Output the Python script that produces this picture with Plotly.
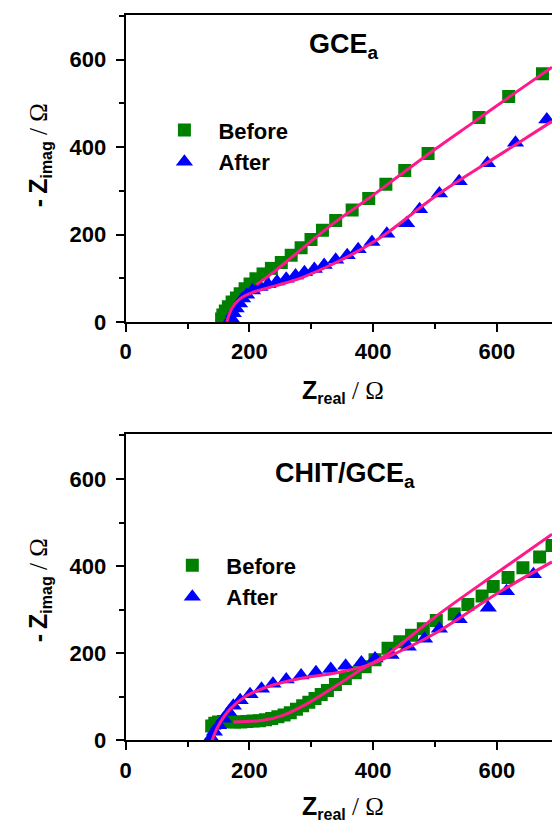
import plotly.graph_objects as go

# ---- Nyquist data: GCE_a (top panel) ----
gce_before_zre = [155, 157, 161, 166, 172, 179, 185, 193, 201, 210.5, 222, 235.5, 251.5, 267.5,
                  283.5, 299.5, 318, 339.4, 366, 392.8, 420.5, 451, 488.7, 571, 619, 673.6]
gce_before_zim = [6.8, 15.8, 24.8, 34.5, 45.8, 54.8, 64.7, 76, 87, 98.5, 109.8, 122.5, 136, 152.6,
                  169.8, 188.7, 209.7, 232, 256, 282.6, 315, 346.5, 385.6, 468, 516, 568]
gce_after_zre = [170.6, 174, 178.6, 184, 189, 195.5, 205, 217, 230, 244.6, 259.5, 274.5, 288.9, 304.9,
                 320.8, 339.4, 358, 375.7, 398, 422, 454, 475, 507, 539, 584.6, 630, 680.6]
gce_after_zim = [8.3, 19.6, 30.9, 42, 53.4, 62.4, 72, 79.6, 86.4, 92.4, 98.5, 106, 113.4, 121,
                 130, 142, 152.6, 166, 182.6, 202, 226, 257.7, 293.8, 322, 363, 410, 463]
gce_before_fit_zre = [211, 240, 270, 300, 340, 390, 450, 500, 560, 620, 689]
gce_before_fit_zim = [85, 115, 150, 185, 230, 280, 343, 395, 455, 515, 583]
gce_after_fit_zre = [163.6, 171.6, 185, 206, 243.5, 286, 329, 371, 419, 499, 606, 689]
gce_after_fit_zim = [0, 31, 53.4, 68, 83, 102, 128.5, 158.5, 200, 286, 384, 459]

# ---- Nyquist data: CHIT/GCE_a (bottom panel) ----
chit_before_zre = [139, 144, 150, 158, 167, 176, 186, 196, 206, 216, 226, 236, 246, 256, 266, 276,
                   286, 296, 306, 316, 326, 339, 355, 371, 387, 403, 424, 443, 462, 481, 502, 531,
                   553, 576, 594, 618, 642, 669, 689]
chit_before_zim = [33, 39, 42, 43, 42.5, 42, 42, 43, 44, 45, 47, 50, 54, 58, 63, 71,
                   79, 87, 96, 105, 114, 128, 142, 155, 169, 185, 211, 226, 241, 256, 275, 290,
                   312, 331, 353, 374, 396, 421, 447]
chit_after_zre = [138, 143.4, 150.3, 158.3, 166.5, 174, 185, 201, 219.5, 238, 259.5, 283.5, 307.5,
                  331.5, 355.5, 381, 403, 429, 456.7, 483, 507, 539, 586, 615.5, 659]
chit_after_zim = [6, 19.6, 34.4, 49.5, 64.6, 79.5, 92, 105.7, 118.5, 130, 139.5, 148.5, 156,
                  163.5, 171, 178.5, 188, 195.7, 214.5, 233, 255.8, 278, 304, 342, 381]
chit_before_fit_zre = [174, 222, 254, 297, 339.4, 382, 424.8, 499, 595, 689]
chit_before_fit_zim = [42, 45.7, 57, 87, 124.5, 163.5, 199.5, 282, 379.5, 473]
chit_after_fit_zre = [139.6, 150, 169, 195.5, 233, 286, 339.4, 392.8, 424.8, 499, 606, 689]
chit_after_fit_zim = [0, 34, 72, 102, 124.5, 143, 154.5, 173, 192, 244.5, 342, 409.5]

panel_titles = ["<b>GCE<sub>a</sub></b>", "<b>CHIT/GCE<sub>a</sub></b>"]
series_names = ["Before", "After"]
x_ticks = [0, 200, 400, 600]
y_ticks = [0, 200, 400, 600]

GREEN = "#008000"
BLUE = "#0000ff"
FIT = "#ff1a8c"
SANS = "Liberation Sans, Arial, sans-serif"
SERIF = "Liberation Serif, Times New Roman, serif"

fig = go.Figure()

panels = [
    ("x", "y", "legend", gce_before_zre, gce_before_zim, gce_after_zre, gce_after_zim,
     gce_before_fit_zre, gce_before_fit_zim, gce_after_fit_zre, gce_after_fit_zim),
    ("x2", "y2", "legend2", chit_before_zre, chit_before_zim, chit_after_zre, chit_after_zim,
     chit_before_fit_zre, chit_before_fit_zim, chit_after_fit_zre, chit_after_fit_zim),
]

for xa, ya, lg, bx, by, ax_, ay, bfx, bfy, afx, afy in panels:
    fig.add_trace(go.Scatter(x=bx, y=by, mode="markers", name=series_names[0], legend=lg,
                             xaxis=xa, yaxis=ya,
                             marker=dict(symbol="square", size=13, color=GREEN, line=dict(width=0))))
    fig.add_trace(go.Scatter(x=ax_, y=ay, mode="markers", name=series_names[1], legend=lg,
                             xaxis=xa, yaxis=ya,
                             marker=dict(symbol="triangle-up", size=15, color=BLUE, line=dict(width=0))))
    for fx, fy in ((bfx, bfy), (afx, afy)):
        fig.add_trace(go.Scatter(x=fx, y=fy, mode="lines", showlegend=False, xaxis=xa, yaxis=ya,
                                 line=dict(color=FIT, width=3, shape="spline", smoothing=1.0)))

W, H = 552, 832
top_dom = [(832 - 327) / H, (832 - 15) / H]
bot_dom = [(832 - 752) / H, (832 - 441) / H]
x_dom = [121 / W, 1.0]

axis_common = dict(
    showline=True, linecolor="black", linewidth=2,
    ticks="outside", ticklen=8, tickwidth=2, tickcolor="black",
    minor=dict(ticks="outside", ticklen=5, tickwidth=2, tickcolor="black", dtick=100),
    showgrid=False, zeroline=False,
    tickfont=dict(family=SANS, size=22, color="black", weight="bold"),
)

xaxis_cfg = dict(axis_common, range=[0, 689], tickvals=x_ticks, mirror=True, domain=x_dom,
                 ticklabelstandoff=1)
yaxis_cfg = dict(axis_common, range=[0, 703], tickvals=y_ticks, mirror=False,
                 ticklabelstandoff=5)

legend_font = dict(family=SANS, size=22, color="black", weight="bold")
fig.update_layout(
    width=W, height=H,
    margin=dict(l=0, r=0, t=0, b=0),
    paper_bgcolor="white", plot_bgcolor="white",
    xaxis=dict(xaxis_cfg, anchor="y"),
    yaxis=dict(yaxis_cfg, domain=top_dom, anchor="x"),
    xaxis2=dict(xaxis_cfg, anchor="y2"),
    yaxis2=dict(yaxis_cfg, domain=bot_dom, anchor="x2"),
    showlegend=True,
    legend=dict(x=146 / W, y=(832 - 111) / H, xanchor="left", yanchor="top",
                bgcolor="rgba(0,0,0,0)", itemwidth=58, tracegroupgap=0, font=legend_font),
    legend2=dict(x=154 / W, y=(832 - 553) / H, xanchor="left", yanchor="top",
                 bgcolor="rgba(0,0,0,0)", itemwidth=58, tracegroupgap=0, font=legend_font),
)

sub_style = "font-size:16px"
x_title = (f"<b>Z</b><sub><span style='{sub_style}'><b>real</b></span></sub>"
           f"<span style='font-family:{SERIF};font-size:25px'> / Ω</span>")
y_title = (f"<b>-\u2009Z</b><sub><span style='{sub_style}'><b>imag</b></span></sub>"
           f"<span style='font-family:{SERIF};font-size:25px'> / Ω</span>")

title_font = dict(family=SANS, size=25, color="black")
annotations = [
    dict(text=panel_titles[0], x=353, y=632, xref="x", yref="y", showarrow=False,
         font=dict(family=SANS, size=27, color="black")),
    dict(text=panel_titles[1], x=355, y=608, xref="x2", yref="y2", showarrow=False,
         font=dict(family=SANS, size=27, color="black")),
    dict(text=x_title, x=341 / W, y=(832 - 398) / H, xref="paper", yref="paper", showarrow=False,
         xanchor="center", yanchor="middle", font=title_font),
    dict(text=x_title, x=341 / W, y=(832 - 820) / H, xref="paper", yref="paper", showarrow=False,
         xanchor="center", yanchor="middle", font=title_font),
    dict(text=y_title, x=34 / W, y=(832 - 158) / H, xref="paper", yref="paper", showarrow=False,
         xanchor="center", yanchor="middle", textangle=-90, font=title_font),
    dict(text=y_title, x=34 / W, y=(832 - 600) / H, xref="paper", yref="paper", showarrow=False,
         xanchor="center", yanchor="middle", textangle=-90, font=title_font),
]
fig.update_layout(annotations=annotations)

# the page body keeps a default 8px margin; drop it so the figure sits at the window origin
fig.write_html("out.html", post_script="document.body.style.margin='0';")
